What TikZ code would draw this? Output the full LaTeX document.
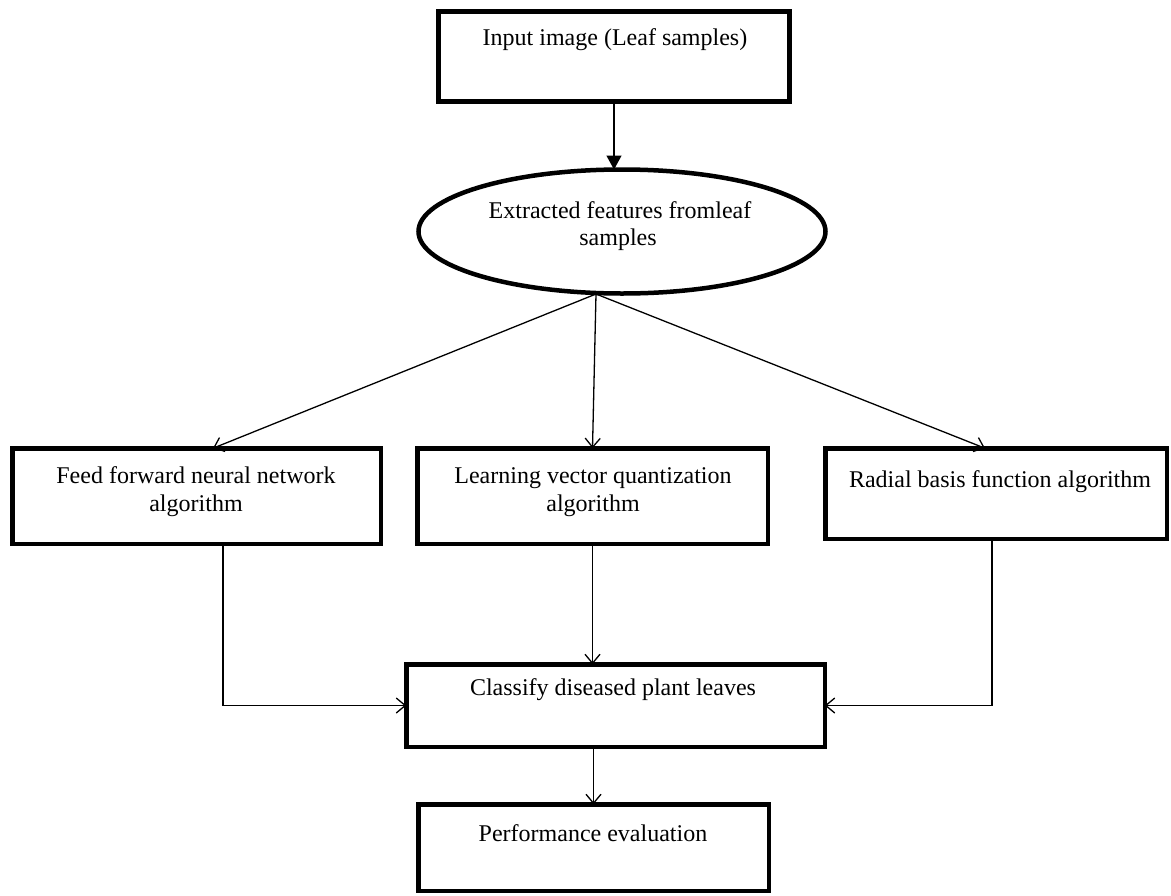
\documentclass[tikz,border=0pt]{standalone}
\usepackage{fontspec}
\setmainfont{Liberation Serif}
\usetikzlibrary{arrows.meta,shapes.geometric,calc}
\begin{document}
\begin{tikzpicture}[x=1pt,y=-1pt,
  box/.style={draw,line width=4.5pt,inner sep=0pt,outer sep=0pt},
  oval/.style={draw,ellipse,line width=4.5pt,inner sep=0pt,outer sep=0pt},
  lbl/.style={anchor=base,inner sep=0pt,font=\fontsize{24}{28}\selectfont},
  conn/.style={line width=1.3pt,-{Straight Barb[length=9pt,width=15pt,line width=1.3pt]}},
  tri/.style={line width=1.3pt,-{Triangle[length=14pt,width=15pt]}}]
\useasboundingbox (0,0) rectangle (1171,895);
% boxes
\node[box, minimum width=351pt, minimum height=90pt] (inp) at (614,56.5) {};
\node[lbl] (inpT) at (615,45) {Input image (Leaf samples)};
\node[oval, minimum width=407pt, minimum height=124pt] (ext) at (622,231.5) {};
\node[lbl] (extT1) at (620,218) {Extracted features fromleaf};
\node[lbl] (extT2) at (618,245) {samples};
\node[box, minimum width=368.5pt, minimum height=95.5pt] (ffnn) at (196.5,496) {};
\node[lbl] (ffnnT1) at (196,483) {Feed forward neural network};
\node[lbl] (ffnnT2) at (196,511) {algorithm};
\node[box, minimum width=350.5pt, minimum height=95.5pt] (lvq) at (592.5,496) {};
\node[lbl] (lvqT1) at (593,483) {Learning vector quantization};
\node[lbl] (lvqT2) at (593,511) {algorithm};
\node[box, minimum width=341.5pt, minimum height=90.5pt] (rbf) at (996,493.5) {};
\node[lbl] (rbfT) at (1000,487) {Radial basis function algorithm};
\node[box, minimum width=418.5pt, minimum height=82.5pt] (cls) at (615.5,705.5) {};
\node[lbl] (clsT) at (613,695) {Classify diseased plant leaves};
\node[box, minimum width=350.5pt, minimum height=86.5pt] (perf) at (593.5,847.5) {};
\node[lbl] (perfT) at (593,841) {Performance evaluation};
% connectors
\draw[tri] (inp.south) -- (ext.north -| inp.south);
\coordinate (apex) at (596,294);
\draw[conn] (apex) -- ($(ffnn.north)+(16.5,0)$);
\draw[conn] (apex) -- (lvq.north);
\draw[conn] (apex) -- ($(rbf.north)+(-11,0)$);
\draw[conn] ($(ffnn.south)+(26.5,0)$) |- (cls.west);
\draw[conn] (lvq.south) -- (lvq.south |- cls.north);
\draw[conn] ($(rbf.south)+(-4,0)$) |- (cls.east);
\draw[conn] (cls.south -| perf.north) -- (perf.north);
\end{tikzpicture}
\end{document}
